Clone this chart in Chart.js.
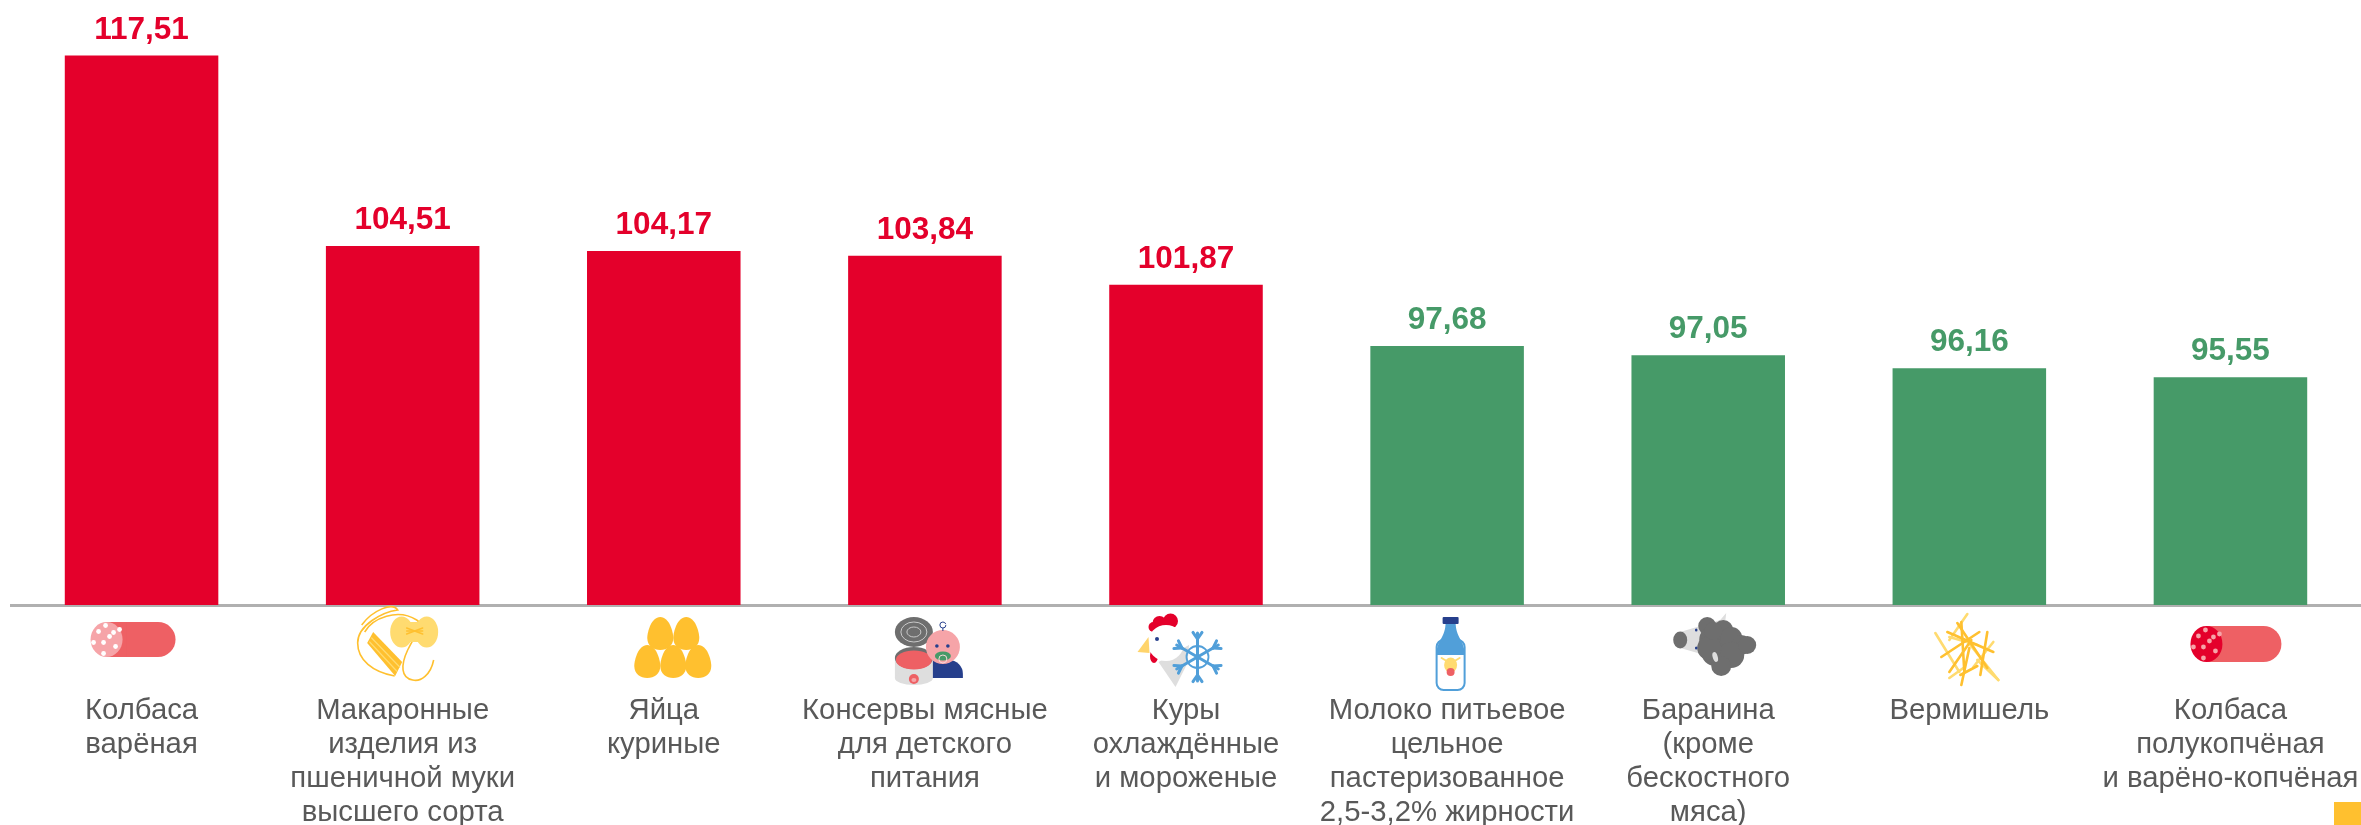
<!DOCTYPE html>
<html>
<head>
<meta charset="utf-8">
<style>
  html, body { margin: 0; padding: 0; background: #fff; }
  canvas { display: block; }
</style>
<script src="https://cdn.jsdelivr.net/npm/chart.js@4/dist/chart.umd.js"></script>
</head>
<body>
<canvas id="chart" width="2361" height="825"></canvas>
<script>
const categories = [
  ['Колбаса', 'варёная'],
  ['Макаронные', 'изделия из', 'пшеничной муки', 'высшего сорта'],
  ['Яйца', 'куриные'],
  ['Консервы мясные', 'для детского', 'питания'],
  ['Куры', 'охлаждённые', 'и мороженые'],
  ['Молоко питьевое', 'цельное', 'пастеризованное', '2,5-3,2% жирности'],
  ['Баранина', '(кроме', 'бескостного', 'мяса)'],
  ['Вермишель'],
  ['Колбаса', 'полукопчёная', 'и варёно-копчёная']
];
const values = [117.51, 104.51, 104.17, 103.84, 101.87, 97.68, 97.05, 96.16, 95.55];
const valueLabels = ['117,51', '104,51', '104,17', '103,84', '101,87', '97,68', '97,05', '96,16', '95,55'];

const RED = '#E4002B';
const GREEN = '#469A68';
const YELLOW = '#FFC02F';
const LIGHT_YELLOW = '#FFDB70';
const SALAMI = '#EE6064';
const BLUE = '#519FD9';
const NAVY = '#263F8C';
const GREY = '#6E6E6E';
const LIGHT_GREY = '#DEDEDE';

const barColors = values.map(v => v > 100 ? RED : GREEN);

// small canvas helpers for the pictograms under the axis
function oval(ctx, x, y, rx, ry, color, rot) {
  ctx.fillStyle = color;
  ctx.beginPath();
  ctx.ellipse(x, y, rx, ry, rot || 0, 0, Math.PI * 2);
  ctx.fill();
}
function egg(ctx, x, y) {
  ctx.fillStyle = YELLOW;
  ctx.beginPath();
  ctx.moveTo(x, y - 17);
  ctx.bezierCurveTo(x + 9, y - 17, x + 13, y - 2, x + 13, y + 4);
  ctx.bezierCurveTo(x + 13, y + 12, x + 7, y + 16, x, y + 16);
  ctx.bezierCurveTo(x - 7, y + 16, x - 13, y + 12, x - 13, y + 4);
  ctx.bezierCurveTo(x - 13, y - 2, x - 9, y - 17, x, y - 17);
  ctx.fill();
}
function poly(ctx, pts, color) {
  ctx.fillStyle = color;
  ctx.beginPath();
  pts.forEach((p, i) => i ? ctx.lineTo(p[0], p[1]) : ctx.moveTo(p[0], p[1]));
  ctx.closePath();
  ctx.fill();
}
function strokes(ctx, list, color, width) {
  ctx.strokeStyle = color;
  ctx.lineWidth = width;
  ctx.lineCap = 'round';
  list.forEach(l => {
    ctx.beginPath();
    ctx.moveTo(l[0], l[1]);
    ctx.lineTo(l[2], l[3]);
    ctx.stroke();
  });
}

function salami(ctx, left, right, top, bottom, face, dots) {
  const r = (bottom - top) / 2, cy = (top + bottom) / 2;
  ctx.fillStyle = SALAMI;
  ctx.beginPath();
  ctx.roundRect(left + 14, top, right - left - 14, bottom - top, r);
  ctx.fill();
  ctx.fillRect(left + 16, top, 20, bottom - top);
  oval(ctx, left + 16, cy, 16, r, face);
  [[-1, -14], [-8, -8], [7, -7], [13, -10], [-13, 3], [-3, 3], [3, -3], [9, 7], [-3, 14]].forEach(d => {
    oval(ctx, left + 16 + d[0], cy + d[1], 2.4, 2.4, dots);
  });
}

const iconDrawers = [
  (ctx, c) => salami(ctx, c - 51, c + 34, 622, 657, '#F6A4A8', '#FFFFFF'),
  (ctx, c) => {
    ctx.strokeStyle = YELLOW;
    ctx.lineWidth = 1.6;
    ctx.beginPath();
    ctx.moveTo(c - 41, 625);
    ctx.bezierCurveTo(c - 30, 610, c - 10, 602, c - 5, 610);
    ctx.bezierCurveTo(c - 20, 612, c - 45, 625, c - 45, 643);
    ctx.bezierCurveTo(c - 45, 660, c - 30, 672, c - 8, 676);
    ctx.stroke();
    ctx.beginPath();
    ctx.moveTo(c + 31, 660);
    ctx.bezierCurveTo(c + 28, 675, c + 18, 682, c + 10, 680);
    ctx.bezierCurveTo(c - 2, 678, c - 2, 665, c + 5, 650);
    ctx.bezierCurveTo(c + 15, 630, c + 22, 625, c + 14, 620);
    ctx.bezierCurveTo(c - 5, 608, c - 30, 618, c - 38, 632);
    ctx.stroke();
    oval(ctx, c - 1, 632, 11.5, 15.5, LIGHT_YELLOW);
    oval(ctx, c + 24, 632, 11.5, 15.5, LIGHT_YELLOW);
    poly(ctx, [[c + 2, 622], [c + 21, 622], [c + 21, 642], [c + 2, 642]], LIGHT_YELLOW);
    strokes(ctx, [[c + 4, 628, c + 20, 634], [c + 4, 634, c + 20, 628], [c + 4, 631, c + 20, 631]], YELLOW, 1.5);
    poly(ctx, [[c - 29.5, 632], [c - 0.5, 662], [c - 7.5, 676], [c - 35.5, 643]], YELLOW);
    strokes(ctx, [[c - 31, 638, c - 3, 667], [c - 33, 642, c - 6, 671]], LIGHT_YELLOW, 1.2);
  },
  (ctx, c) => {
    [[-3.5, 634], [22.5, 634], [-16.5, 662], [9.5, 662], [34.5, 662]].forEach(e => egg(ctx, c + e[0], e[1]));
  },
  (ctx, c) => {
    // tin
    const x = c - 11;
    ctx.fillStyle = LIGHT_GREY;
    ctx.fillRect(x - 19, 658, 38, 20);
    oval(ctx, x, 678, 19, 7, LIGHT_GREY);
    oval(ctx, x, 658, 19, 11, GREY);
    oval(ctx, x, 660, 18, 9.5, SALAMI);
    oval(ctx, x, 632, 19, 15, GREY);
    ctx.strokeStyle = '#C8C8C8';
    ctx.lineWidth = 1;
    ctx.beginPath(); ctx.ellipse(x, 632, 13, 10, 0, 0, 7); ctx.stroke();
    ctx.beginPath(); ctx.ellipse(x, 632, 7, 5, 0, 0, 7); ctx.stroke();
    oval(ctx, x, 679, 5, 5, SALAMI);
    oval(ctx, x, 680, 2.5, 2, '#F6A4A8');
    // baby
    ctx.fillStyle = NAVY;
    ctx.beginPath();
    ctx.roundRect(c + 8, 660, 30, 18, [0, 14, 0, 0]);
    ctx.fill();
    oval(ctx, c + 18, 647, 17, 17, '#F6A4A8');
    oval(ctx, c + 12, 646, 1.8, 1.8, NAVY);
    oval(ctx, c + 23, 646, 1.8, 1.8, NAVY);
    oval(ctx, c + 18, 656, 8, 4.5, GREEN);
    ctx.strokeStyle = '#F6D8D8';
    ctx.lineWidth = 1;
    ctx.beginPath(); ctx.arc(c + 18, 659, 4, 0, 7); ctx.stroke();
    ctx.strokeStyle = NAVY;
    ctx.beginPath(); ctx.arc(c + 18, 625, 3, 0, 6); ctx.moveTo(c + 18, 628); ctx.lineTo(c + 18, 631); ctx.stroke();
  },
  (ctx, c) => {
    poly(ctx, [[c - 27.5, 662], [c - 10.5, 687], [c + 1.5, 663], [c + 3, 645], [c - 15, 655]], LIGHT_GREY);
    oval(ctx, c - 15.5, 621, 7.5, 7.5, RED);
    oval(ctx, c - 26.5, 623, 7, 7, RED);
    oval(ctx, c - 32.5, 627, 5, 5, RED);
    oval(ctx, c - 32, 656, 4, 7, RED);
    oval(ctx, c - 20, 643, 18, 18, '#FFFFFF');
    poly(ctx, [[c - 48.5, 652], [c - 37.5, 637], [c - 36.5, 653]], '#FFD46B');
    oval(ctx, c - 29, 639, 2, 2, NAVY);
    // snowflake
    const sx = c + 11.5, sy = 657, arms = [];
    for (let a = 0; a < 6; a++) {
      const t = a * Math.PI / 3 + Math.PI / 2, ca = Math.cos(t), sa = Math.sin(t);
      arms.push([sx, sy, sx + 24 * ca, sy + 24 * sa]);
      [-0.6, 0.6].forEach(o => {
        const mx = sx + 18 * ca, my = sy + 18 * sa;
        arms.push([mx, my, mx + 8 * Math.cos(t + o), my + 8 * Math.sin(t + o)]);
      });
    }
    strokes(ctx, arms, BLUE, 3);
    ctx.strokeStyle = BLUE;
    ctx.lineWidth = 1.8;
    ctx.beginPath(); ctx.arc(sx, sy, 11, 0, 7); ctx.stroke();
  },
  (ctx, c) => {
    const x = c + 3.5;
    ctx.fillStyle = '#FFFFFF';
    ctx.strokeStyle = BLUE;
    ctx.lineWidth = 2;
    ctx.beginPath();
    ctx.roundRect(x - 14, 640, 28, 50, 7);
    ctx.fill();
    ctx.stroke();
    ctx.fillStyle = BLUE;
    ctx.beginPath();
    ctx.moveTo(x - 5, 622);
    ctx.lineTo(x + 5, 622);
    ctx.bezierCurveTo(x + 5, 638, x + 14, 640, x + 14, 654);
    ctx.lineTo(x + 14, 655);
    ctx.lineTo(x - 14, 655);
    ctx.lineTo(x - 14, 654);
    ctx.bezierCurveTo(x - 14, 640, x - 5, 638, x - 5, 622);
    ctx.fill();
    ctx.fillStyle = NAVY;
    ctx.beginPath();
    ctx.roundRect(x - 8, 617, 16, 7, 1);
    ctx.fill();
    strokes(ctx, [[x - 9, 658, x - 4, 661], [x + 9, 658, x + 4, 661]], LIGHT_YELLOW, 2);
    oval(ctx, x, 665, 6.5, 7.5, LIGHT_YELLOW);
    oval(ctx, x, 672, 4, 4, SALAMI);
  },
  (ctx, c) => {
    poly(ctx, [[c - 28, 632], [c + 12, 620], [c + 18, 613], [c + 16, 630], [c + 14, 660], [c - 28, 648]], LIGHT_GREY);
    oval(ctx, c - 28, 640, 7, 8.5, GREY);
    [[-4, 626, 9], [2, 640, 14], [4, 652, 14], [12, 630, 10], [20, 638, 11], [30, 645, 10], [20, 655, 13], [10, 666, 10], [-2, 648, 12], [36, 645, 9], [2, 631, 9]].forEach(b => {
      oval(ctx, c + b[0] + 3, b[1], b[2], b[2], GREY);
    });
    oval(ctx, c + 7, 657, 2.5, 5, LIGHT_GREY, -0.3);
    oval(ctx, c - 12, 630, 1.3, 1.6, NAVY);
    oval(ctx, c - 12, 648, 1.3, 1.6, NAVY);
  },
  (ctx, c) => {
    strokes(ctx, [
      [c - 34, 633, c - 10, 672], [c - 2, 614, c - 20, 640], [c - 20, 637, c + 8, 645],
      [c + 8, 660, c + 29, 680], [c + 1, 645, c + 29, 680], [c + 24, 642, c + 4, 667],
      [c - 20, 678, c - 6, 668]
    ], LIGHT_YELLOW, 2.6);
    strokes(ctx, [
      [c - 28, 657, c + 10, 632], [c - 12, 623, c + 18, 668], [c + 18, 632, c + 11, 675],
      [c - 8, 622, c - 5, 672], [c + 0, 648, c - 8, 685], [c - 22, 632, c + 24, 652],
      [c - 20, 672, c + 2, 640], [c - 9, 675, c + 8, 666]
    ], YELLOW, 2.6);
  },
  (ctx, c) => salami(ctx, c - 40, c + 51, 626, 662, RED, '#F6A4A8')
];

// numbers over the bars, pictograms and the yellow corner mark
const barAnnotations = {
  id: 'barAnnotations',
  afterDatasetsDraw(chart) {
    const ctx = chart.ctx;
    const bars = chart.getDatasetMeta(0).data;
    ctx.save();
    ctx.font = 'bold 31.5px "Liberation Sans", Arial, sans-serif';
    ctx.textAlign = 'center';
    ctx.textBaseline = 'alphabetic';
    bars.forEach((bar, i) => {
      ctx.fillStyle = barColors[i];
      ctx.fillText(valueLabels[i], bar.x, bar.y - 17);
    });
    iconDrawers.forEach((draw, i) => {
      ctx.save();
      draw(ctx, chart.scales.x.getPixelForValue(i));
      ctx.restore();
    });
    ctx.fillStyle = YELLOW;
    ctx.fillRect(chart.width - 27, chart.height - 23, 27, 23);
    ctx.restore();
  }
};

new Chart(document.getElementById('chart'), {
  type: 'bar',
  data: {
    labels: categories,
    datasets: [{
      data: values,
      backgroundColor: barColors,
      borderWidth: 0,
      categoryPercentage: 1,
      barPercentage: 0.588
    }]
  },
  plugins: [barAnnotations],
  options: {
    responsive: false,
    animation: false,
    layout: { padding: { left: 11, right: 0, top: 0, bottom: 0 } },
    plugins: { legend: { display: false }, tooltip: { enabled: false } },
    scales: {
      y: { display: false, min: 80, max: 121.3 },
      x: {
        // long labels at the edges must not shrink the plot
        afterFit(scale) {
          scale.height = 220;
          scale.paddingLeft = 0;
          scale.paddingRight = 0;
        },
        border: { color: '#B0B0B0', width: 3 },
        grid: { display: false },
        ticks: {
          autoSkip: false,
          maxRotation: 0,
          minRotation: 0,
          padding: 81,
          color: '#595959',
          font: { family: '"Liberation Sans", Arial, sans-serif', size: 29.3, lineHeight: 1.16 }
        }
      }
    }
  }
});
</script>
</body>
</html>
